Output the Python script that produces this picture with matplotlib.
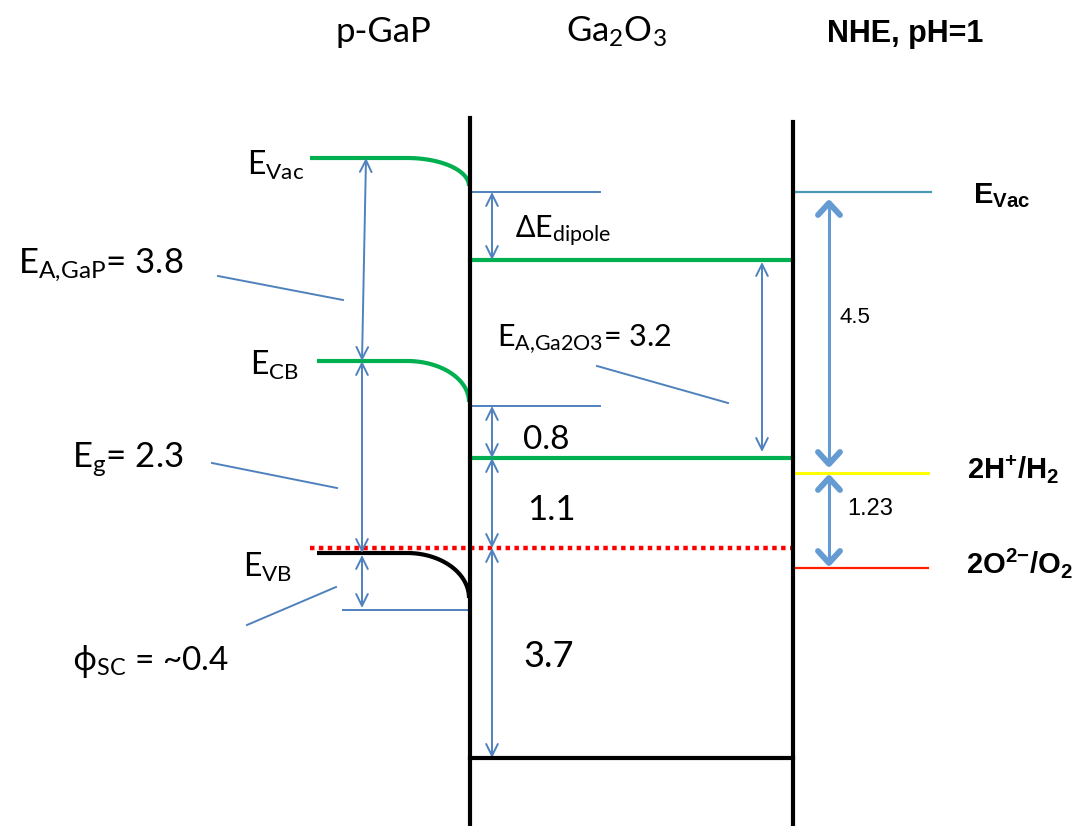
import numpy as np
import matplotlib
matplotlib.use('Agg')
import matplotlib.pyplot as plt

plt.rcParams['mathtext.fontset'] = 'custom'
plt.rcParams['mathtext.rm'] = 'Lato'
plt.rcParams['mathtext.it'] = 'Lato:italic'
plt.rcParams['mathtext.sf'] = 'Noto Sans'
plt.rcParams['mathtext.bf'] = 'Liberation Sans:bold'
plt.rcParams['font.family'] = ['Lato', 'Noto Sans', 'DejaVu Sans']

# ---------------- data ----------------
titles = ['p-GaP', 'Ga$_2$O$_3$', 'NHE, pH=1']
# energy values (eV) shown on the diagram
ea_gap, eg_gap, phi_sc = 3.8, 2.3, 0.4
ea_ga2o3, cb_offset, vb_to_fermi, fermi_to_bottom = 3.2, 0.8, 1.1, 3.7
nhe_vac, water_window = 4.5, 1.23
# diagram level positions (schematic, not to scale)
gap_levels = {'vac': 158, 'cb': 361, 'vb': 553}
gap_bend_end = {'vac': 186, 'cb': 402, 'vb': 598}
gap_surface = 610
ga2o3_levels = {'dipole': 192, 'vac': 260, 'cb_ref': 406, 'cb': 458, 'fermi': 548, 'bottom': 758}
nhe_levels = {'vac': 192, 'h2': 473, 'o2': 568}

BLUE = '#4f81bd'
LBLUE = '#639bd2'
GREEN = '#00b050'

fig = plt.figure(figsize=(10.86, 8.26), dpi=100)
ax = fig.add_axes([0, 0, 1, 1])
ax.set_xlim(0, 1086)
ax.set_ylim(826, 0)
ax.axis('off')

XL, XR = 470, 793

def bent_band(x_start, y_flat, y_end, color):
    xb = 407
    t = np.linspace(0, np.pi / 2, 60)
    xs = np.concatenate([[x_start], xb + (XL - 1 - xb) * np.sin(t)])
    ys = np.concatenate([[y_flat], y_flat + (y_end - y_flat) * (1 - np.cos(t))])
    ax.plot(xs, ys, color=color, lw=3, solid_capstyle='butt', zorder=3)

def darrow(x0, y0, x1, y1):
    ax.annotate('', xy=(x1, y1), xytext=(x0, y0),
                arrowprops=dict(arrowstyle='<->,head_length=0.85,head_width=0.42',
                                color=BLUE, lw=1.4, shrinkA=0, shrinkB=0), zorder=4)

def thick_arrow(x, y0, y1):
    ax.plot([x, x], [y0 + 2, y1 - 2], color=LBLUE, lw=2.2, zorder=4)
    for tip, s in [(y0, 1), (y1, -1)]:
        ax.plot([x - 11, x, x + 11], [tip + 12 * s, tip, tip + 12 * s], color=LBLUE,
                lw=4.2, solid_capstyle='round', solid_joinstyle='round', zorder=4)

def leader(x0, y0, x1, y1):
    ax.plot([x0, x1], [y0, y1], color=BLUE, lw=1.4, zorder=4)

# frame lines
ax.plot([XL, XL], [118, 826], color='black', lw=3, zorder=5)
ax.plot([XR, XR], [122, 826], color='black', lw=3, zorder=5)

# p-GaP bands
bent_band(310, gap_levels['vac'], gap_bend_end['vac'], GREEN)
bent_band(317, gap_levels['cb'], gap_bend_end['cb'], GREEN)
bent_band(317, gap_levels['vb'], gap_bend_end['vb'], 'black')
ax.plot([343, XL], [gap_surface, gap_surface], color=BLUE, lw=1.4)

# Fermi level (dotted)
ax.plot([310, XR], [ga2o3_levels['fermi'], ga2o3_levels['fermi']], color='#ff0000',
        lw=3.2, linestyle=(0, (1, 1)), dash_capstyle='butt', zorder=3)

# Ga2O3 levels
ax.plot([XL, 600], [ga2o3_levels['dipole']] * 2, color=BLUE, lw=1.4)
ax.plot([XL, 600], [ga2o3_levels['cb_ref']] * 2, color=BLUE, lw=1.4)
ax.plot([XL, XR], [ga2o3_levels['vac']] * 2, color=GREEN, lw=3, zorder=3)
ax.plot([XL, XR], [ga2o3_levels['cb']] * 2, color=GREEN, lw=3, zorder=3)
ax.plot([XL, XR], [ga2o3_levels['bottom']] * 2, color='black', lw=3, zorder=5)

# NHE levels
ax.plot([XR + 2, 931], [nhe_levels['vac']] * 2, color='#4a9bb5', lw=1.6)
ax.plot([XR + 2, 928], [nhe_levels['h2']] * 2, color='#ffff00', lw=2.2)
ax.plot([XR + 2, 928], [nhe_levels['o2']] * 2, color='#ff2000', lw=1.6)

# arrows
darrow(366, gap_levels['vac'], 362, gap_levels['cb'])
darrow(362, gap_levels['cb'], 362, gap_levels['vb'])
darrow(362, gap_levels['vb'] + 2, 362, gap_surface - 2)
darrow(492, ga2o3_levels['dipole'], 492, ga2o3_levels['vac'])
darrow(492, ga2o3_levels['cb_ref'], 492, ga2o3_levels['cb'])
darrow(492, ga2o3_levels['cb'], 492, ga2o3_levels['fermi'])
darrow(492, ga2o3_levels['fermi'], 492, ga2o3_levels['bottom'])
darrow(762, ga2o3_levels['vac'] + 2, 762, ga2o3_levels['cb'] - 6)
thick_arrow(829, nhe_levels['vac'] + 11, nhe_levels['h2'] - 9)
thick_arrow(829, nhe_levels['h2'] + 5, nhe_levels['o2'] - 5)

# leader lines
leader(218, 276, 343, 300)
leader(212, 463, 337, 488)
leader(247, 625, 336, 587)
leader(597, 366, 728, 403)

# titles
ax.text(335, 42, titles[0], fontsize=25, va='baseline')
ax.text(566, 42, titles[1], fontsize=25, va='baseline')
ax.text(827, 42, titles[2], fontsize=22, va='baseline', family='Liberation Sans',
        fontweight='bold')

# left labels
ax.text(247, 175, r'$\mathrm{E_{Vac}}$', fontsize=23, va='baseline')
ax.text(18, 273, r'$\mathrm{E_{A{,}GaP}}$= ' + f'{ea_gap}', fontsize=25, va='baseline')
ax.text(250, 375, r'$\mathrm{E_{CB}}$', fontsize=23, va='baseline')
ax.text(72, 468, r'$\mathrm{E_{g}}$= ' + f'{eg_gap}', fontsize=25, va='baseline')
ax.text(243, 577, r'$\mathrm{E_{VB}}$', fontsize=23, va='baseline')
ax.text(72, 670, r'$\mathsf{ϕ}_{\mathrm{SC}}$ = ~' + f'{phi_sc}', fontsize=24, va='baseline')

# Ga2O3 labels
ax.text(515, 238, r'$\mathsf{Δ}\mathrm{E_{dipole}}$', fontsize=22, va='baseline')
ax.text(497, 346, r'$\mathrm{E_{A{,}Ga2O3}}$= ' + f'{ea_ga2o3}', fontsize=22, va='baseline')
ax.text(523, 449, f'{cb_offset}', fontsize=24, va='baseline')
ax.text(527, 520, f'{vb_to_fermi}', fontsize=25, va='baseline')
ax.text(523, 667, f'{fermi_to_bottom}', fontsize=26, va='baseline')

# NHE labels
ax.text(840, 323, f'{nhe_vac}', fontsize=16, va='baseline', family='Liberation Sans')
ax.text(847, 515, f'{water_window}', fontsize=17, va='baseline', family='Liberation Sans')
ax.text(973, 203, r'$\mathbf{E_{Vac}}$', fontsize=21, va='baseline')
ax.text(967, 479, r'$\mathbf{2H^{+}/H_{2}}$', fontsize=21, va='baseline')
ax.text(966, 573, r'$\mathbf{2O^{2{-}}/O_{2}}$', fontsize=21, va='baseline')

fig.savefig('out.png', dpi=100)
